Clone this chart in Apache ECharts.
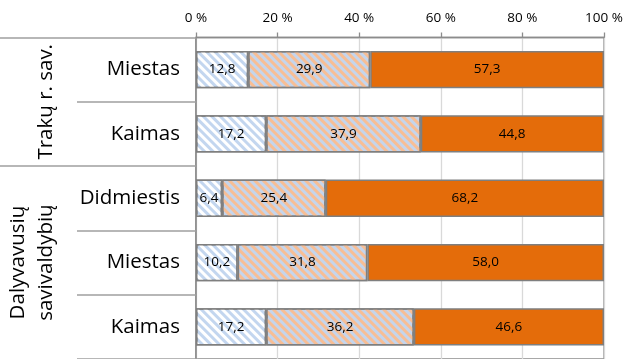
<!DOCTYPE html>
<html>
<head>
<meta charset="utf-8">
<script src="https://cdn.jsdelivr.net/npm/echarts@6/dist/echarts.min.js"></script>
<style>
html,body{margin:0;padding:0;background:#fff;}
#chart{width:627px;height:359px;}
</style>
</head>
<body>
<div id="chart"></div>
<script>
const categories = ['Miestas', 'Kaimas', 'Didmiestis', 'Miestas', 'Kaimas'];
const groupLabels = ['Trakų r. sav.', 'Dalyvavusių\nsavivaldybių\n'];
const xTicks = ['0 %', '20 %', '40 %', '60 %', '80 %', '100 %'];
const series1 = [12.8, 17.2, 6.4, 10.2, 17.2];
const series2 = [29.9, 37.9, 25.4, 31.8, 36.2];
const series3 = [57.3, 44.8, 68.2, 58.0, 46.6];

const FONT = 'Open Sans';
const fmt = p => p.value.toFixed(1).replace('.', ',');
const labelCfg = { show: true, position: 'inside', color: '#000', fontFamily: FONT, fontSize: 13.5, formatter: fmt };
const border = { borderColor: '#7f7f7f', borderWidth: 1.5 };

const chart = echarts.init(document.getElementById('chart'), null, { renderer: 'canvas' });
chart.setOption({
  animation: false,
  backgroundColor: '#fff',
  grid: { left: 196, right: 23, top: 37.5, bottom: -3.5, show: true, borderColor: '#8c8c8c', borderWidth: 1.3, backgroundColor: 'transparent' },
  xAxis: {
    type: 'value', position: 'top', min: 0, max: 100, interval: 20,
    axisLine: { show: true, lineStyle: { color: '#8c8c8c', width: 1.3 } },
    axisTick: { show: true, length: 5, lineStyle: { color: '#8c8c8c', width: 1.3 } },
    splitLine: { show: true, lineStyle: { color: '#d9d9d9', width: 1.3 } },
    axisLabel: { color: '#000', fontFamily: FONT, fontSize: 13.5, margin: 12, formatter: v => xTicks[Math.round(v / 20)] }
  },
  yAxis: [{
    type: 'category', data: categories, inverse: true,
    axisLine: { show: true, lineStyle: { color: '#868686', width: 1.5 } },
    axisTick: { show: true, length: 119, interval: 0, lineStyle: { color: '#a0a0a0', width: 1.5 } },
    axisLabel: { color: '#000', fontFamily: FONT, fontSize: 20.5, margin: 16, interval: 0 }
  }, {
    type: 'value', min: 0, max: 5, inverse: true, position: 'left',
    axisLine: { show: false },
    splitLine: { show: false },
    axisTick: { show: true, length: 196, customValues: [0, 2], lineStyle: { color: '#a0a0a0', width: 1.5 } },
    axisLabel: {
      show: true, customValues: [1, 3.5], rotate: 90, margin: 150,
      verticalAlign: 'middle', align: 'center',
      color: '#000', fontFamily: FONT, fontSize: 20.5, lineHeight: 28,
      formatter: v => v === 1 ? groupLabels[0] : groupLabels[1]
    }
  }],
  series: [{
    type: 'bar', stack: 'total', barCategoryGap: '42%', data: series1, label: labelCfg,
    itemStyle: Object.assign({ color: '#c3d6ef', decal: { symbol: 'rect', symbolSize: 1, dashArrayX: [1, 0], dashArrayY: [2.7, 2.6], rotation: Math.PI / 4, color: '#ffffff' } }, border)
  }, {
    type: 'bar', stack: 'total', data: series2, label: labelCfg,
    itemStyle: Object.assign({ color: '#c5d5ec', decal: { symbol: 'rect', symbolSize: 1, dashArrayX: [1, 0], dashArrayY: [2.8, 2.5], rotation: Math.PI / 4, color: '#f7be95' } }, border)
  }, {
    type: 'bar', stack: 'total', data: series3, label: labelCfg,
    itemStyle: Object.assign({ color: '#e46c0a' }, border)
  }]
});
</script>
</body>
</html>
